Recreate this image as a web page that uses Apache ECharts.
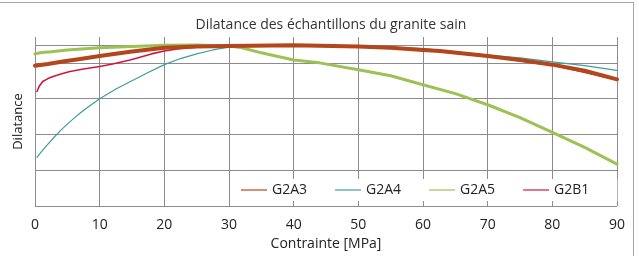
<!DOCTYPE html>
<html><head><meta charset="utf-8">
<script src="https://cdn.jsdelivr.net/npm/echarts@6/dist/echarts.min.js"></script>
<style>
html,body{margin:0;padding:0;background:#fff;}
#wrap{position:relative;width:639px;height:256px;overflow:hidden;}
#frame{position:absolute;left:0;top:2px;width:634px;height:300px;border-top:1px solid #a6a6a6;border-right:1px solid #a6a6a6;box-sizing:border-box;}
#chart{position:absolute;left:0;top:0;width:639px;height:256px;}
</style></head>
<body><div id="wrap"><div id="frame"></div><div id="chart"></div></div>
<script>
const titleText = "Dilatance des échantillons du granite sain";
const xName = "Contrainte [MPa]";
const yName = "Dilatance";
const seriesNames = ["G2A3", "G2A4", "G2A5", "G2B1"];
const xTicks = [0, 10, 20, 30, 40, 50, 60, 70, 80, 90];

const g2a3 = [[0,3.92],[2,3.97],[4.3,4.04],[7,4.11],[10,4.19],[14.7,4.31],[20,4.42],[25,4.46],[30,4.47],[40,4.49],[50,4.46],[55,4.42],[60,4.36],[62.6,4.33],[70,4.19],[75,4.08],[80,3.95],[85,3.78],[90,3.54]];
const g2a4 = [[0.3,1.36],[1,1.52],[2,1.73],[3,1.93],[4,2.12],[5,2.29],[6,2.45],[7,2.6],[8,2.74],[10,3.0],[12.5,3.27],[15,3.5],[17.5,3.73],[20,3.95],[22.5,4.12],[25,4.25],[27.5,4.36],[30,4.44],[32,4.49],[40,4.49],[50,4.47],[60,4.4],[70,4.22],[75,4.14],[80,4.03],[85,3.92],[90,3.79]];
const g2a5 = [[0,4.25],[1,4.29],[2.5,4.31],[5,4.36],[10,4.42],[15,4.46],[20,4.49],[25,4.5],[30,4.47],[32,4.42],[35,4.28],[40,4.08],[44,4.0],[50,3.81],[55,3.64],[60,3.39],[65,3.14],[70,2.83],[75,2.47],[80,2.06],[85,1.64],[90,1.17]];
const g2b1 = [[0.3,3.2],[0.7,3.36],[1.2,3.48],[2,3.56],[2.8,3.62],[4,3.69],[5.4,3.76],[7.5,3.83],[10,3.9],[12,3.97],[14.7,4.08],[16.5,4.17],[18,4.25],[20,4.33],[22,4.39],[25,4.44],[30,4.47],[40,4.49],[50,4.46],[60,4.36],[70,4.18],[80,3.94],[90,3.53]];
const topGrid = 4.5;

const colors = {G2A3:"#b4461c", G2A4:"#3d9e9c", G2A5:"#9dc154", G2B1:"#d0183f"};
const FONT = "'Open Sans', sans-serif";

const chart = echarts.init(document.getElementById('chart'), null, {renderer:'canvas'});
function ser(name, data, w, z){
  return {name, type:'line', data, symbol:'none', smooth:false, z,
    lineStyle:{color:colors[name], width:w, join:'round', cap:'round'}, itemStyle:{color:colors[name]}, clip:true};
}
const s3 = ser("G2A3", g2a3, 4, 5);
const s4 = ser("G2A4", g2a4, 1.2, 3);
const s5 = ser("G2A5", g2a5, 3, 4);
const sB = ser("G2B1", g2b1, 1.6, 2);
s4.markLine = {silent:true, symbol:'none', label:{show:false}, lineStyle:{color:'#8c8c8c', width:1, type:'solid'}, data:[{yAxis:topGrid}], z:1};
chart.setOption({
  animation:false,
  title:{text:titleText, left:326, textAlign:'center', top:13, textStyle:{fontFamily:FONT, fontSize:14, fontWeight:'normal', color:'#333'}},
  grid:{left:35, right:22, top:37, bottom:49},
  legend:{data:seriesNames, left:236, top:179, padding:[4,28,4,5], itemGap:28, itemWidth:26, itemHeight:1.2,
    icon:'rect', backgroundColor:'#fff', textStyle:{fontFamily:FONT, fontSize:14, color:'#222'}},
  xAxis:{type:'value', min:0, max:90, interval:10, name:xName, nameLocation:'middle', nameGap:28,
    nameTextStyle:{fontFamily:FONT, fontSize:14, color:'#222'},
    axisLine:{show:false}, axisTick:{show:false},
    axisLabel:{fontFamily:FONT, fontSize:14, color:'#222', margin:12},
    splitLine:{show:true, lineStyle:{color:'#8c8c8c', width:1}}},
  yAxis:{type:'value', min:0, max:4.722, interval:1, name:yName, nameLocation:'middle', nameGap:10,
    nameTextStyle:{fontFamily:FONT, fontSize:13, color:'#222'},
    axisLine:{show:false}, axisTick:{show:false}, axisLabel:{show:false},
    splitLine:{show:true, showMaxLine:false, lineStyle:{color:'#8c8c8c', width:1}}},
  series:[sB, s4, s5, s3]
});
</script></body></html>
